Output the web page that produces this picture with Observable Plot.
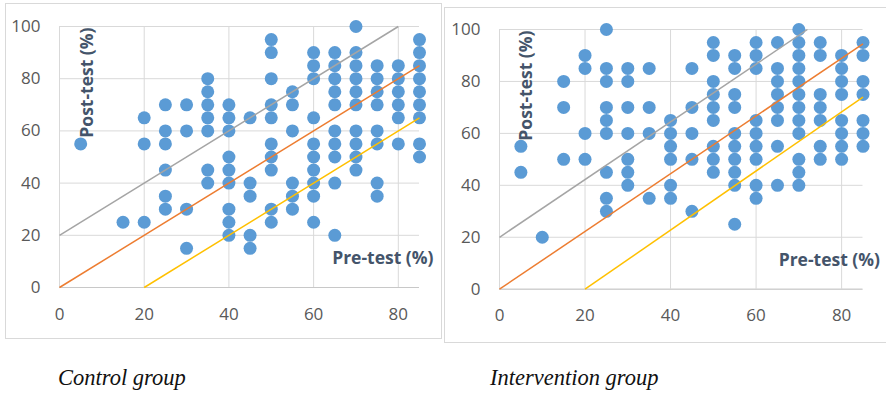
<!DOCTYPE html>
<html>
<head>
<meta charset="utf-8">
<script src="https://cdn.jsdelivr.net/npm/d3@7"></script>
<script src="https://cdn.jsdelivr.net/npm/@observablehq/plot@0.6"></script>
<style>
  html, body { margin: 0; padding: 0; background: #fff; }
  body { position: relative; width: 886px; height: 394px; overflow: hidden; }
  .box { position: absolute; border: 1.5px solid #d9d9d9; box-sizing: border-box; }
  .chart { position: absolute; top: 0; }
  .chart svg { overflow: visible; display: block; }
  .caption { position: absolute; font-family: "Liberation Serif", "DejaVu Serif", serif; font-style: italic; font-size: 22.5px; line-height: 22px; color: #111; white-space: nowrap; }
</style>
</head>
<body>
<div class="box" style="left:5px; top:3px; width:437px; height:336px;"></div>
<div class="box" style="left:444px; top:7px; width:446px; height:336px;"></div>
<div id="left" class="chart" style="left:0px;"></div>
<div id="right" class="chart" style="left:444px;"></div>
<div class="caption" style="left:58px; top:367px;">Control group</div>
<div class="caption" style="left:490px; top:367px;">Intervention group</div>
<script>
// ---- data ----
const xTicks = [0, 20, 40, 60, 80];
const yTicks = [0, 20, 40, 60, 80, 100];
const xLabel = "Pre-test (%)";
const yLabel = "Post-test (%)";
const groupNames = ["Control group", "Intervention group"];

// Control group: pre-test score columns and post-test scores in each column
const controlPre = [5, 15, 20, 25, 30, 35, 40, 45, 50, 55, 60, 65, 70, 75, 80, 85];
const controlPost = [
  [55],
  [25],
  [65, 55, 25],
  [70, 60, 55, 45, 35, 30],
  [70, 60, 30, 15],
  [80, 75, 70, 65, 60, 45, 40],
  [70, 65, 60, 50, 45, 40, 30, 25, 20],
  [65, 40, 35, 20, 15],
  [95, 90, 80, 70, 65, 55, 50, 45, 30, 25],
  [75, 70, 60, 40, 35, 30],
  [90, 85, 80, 65, 55, 50, 45, 40, 35, 25],
  [90, 85, 80, 75, 70, 60, 55, 50, 40, 20],
  [100, 90, 85, 80, 75, 70, 60, 55, 50, 45],
  [85, 80, 75, 70, 60, 55, 40, 35],
  [85, 80, 75, 70, 65, 55],
  [95, 90, 85, 80, 75, 70, 65, 55, 50]
];

// Intervention group
const interventionPre = [5, 10, 15, 20, 25, 30, 35, 40, 45, 50, 55, 60, 65, 70, 75, 80, 85];
const interventionPost = [
  [55, 45],
  [20],
  [80, 70, 50],
  [90, 85, 60, 50],
  [100, 85, 80, 70, 65, 60, 45, 35, 30],
  [85, 80, 70, 60, 50, 45, 40],
  [85, 70, 60, 35],
  [65, 60, 55, 50, 40, 35],
  [85, 70, 60, 50, 30],
  [95, 90, 80, 75, 70, 65, 55, 50, 45],
  [90, 85, 75, 70, 60, 55, 50, 45, 40, 25],
  [95, 90, 85, 65, 60, 55, 50, 40, 35],
  [95, 85, 80, 75, 70, 65, 55, 40],
  [100, 95, 90, 85, 80, 75, 70, 65, 60, 50, 45, 40],
  [95, 90, 75, 70, 65, 55, 50],
  [90, 85, 80, 75, 65, 60, 55, 50],
  [95, 90, 80, 75, 65, 60, 55]
];

// Reference lines (upper +20, identity, lower -20): start and end points [pre, post]
const controlLineStart = [[0, 20], [0, 0], [20, 0]];
const controlLineEnd = [[80, 100], [85, 85], [85, 65]];
const interventionLineStart = [[0, 20], [0, 0], [20, 0]];
const interventionLineEnd = [[72, 100], [85, 94.5], [85, 74]];

// ---- styles ----
const lineColors = ["#a5a5a5", "#ed7d31", "#ffc000"];
const dotColor = "#5b9bd5";
const gridColor = "#d9d9d9";
const textColor = "#595959";
const titleColor = "#44546a";

function panel(pre, post, lineStart, lineEnd, opts) {
  const points = pre.flatMap((x, i) => post[i].map(y => ({pre: x, post: y})));
  const links = lineStart.map((s, i) => ({x1: s[0], y1: s[1], x2: lineEnd[i][0], y2: lineEnd[i][1], color: lineColors[i]}));
  return Plot.plot({
    width: opts.width,
    height: opts.height,
    marginLeft: opts.ml,
    marginRight: opts.mr,
    marginTop: opts.mt,
    marginBottom: opts.mb,
    x: {domain: [0, 85]},
    y: {domain: [0, 100]},
    style: {fontFamily: "'Open Sans', 'Liberation Sans', sans-serif", fontSize: "17px", color: textColor, background: "transparent", overflow: "visible"},
    marks: [
      Plot.gridY(yTicks, {stroke: gridColor, strokeOpacity: 1, strokeWidth: 1}),
      Plot.gridX(xTicks, {stroke: gridColor, strokeOpacity: 1, strokeWidth: 1}),
      Plot.ruleY([0], {stroke: "#c8c8c8", strokeWidth: 1}),
      Plot.axisX(xTicks, {tickSize: 0, tickPadding: 20, label: null, fill: textColor, fontSize: 17}),
      Plot.axisY(yTicks, {tickSize: 0, tickPadding: 19, label: null, fill: textColor, fontSize: 17}),
      Plot.dot(points, {x: "pre", y: "post", r: 6.5, fill: dotColor, stroke: "none"}),
      Plot.link(links, {x1: "x1", y1: "y1", x2: "x2", y2: "y2", stroke: d => d.color, strokeWidth: 1.5}),
      Plot.text([yLabel], {text: d => d, frameAnchor: "top-left", rotate: -90, textAnchor: "end", dx: opts.ylx, dy: opts.yly, fontWeight: "bold", fontSize: 17.5, fill: titleColor}),
      Plot.text([xLabel], {text: d => d, frameAnchor: "bottom-right", textAnchor: "end", dx: opts.xlx, dy: opts.xly, fontWeight: "bold", fontSize: 17.5, fill: titleColor})
    ]
  });
}

document.getElementById("left").append(panel(controlPre, controlPost, controlLineStart, controlLineEnd,
  {width: 442, height: 340, ml: 59, mr: 23, mt: 26, mb: 53, ylx: 21, yly: 1, xlx: 14, xly: -24}));
document.getElementById("right").append(panel(interventionPre, interventionPost, interventionLineStart, interventionLineEnd,
  {width: 442, height: 342, ml: 55, mr: 23.5, mt: 29, mb: 53.3, ylx: 20, yly: 1, xlx: 17, xly: -23}));
</script>
</body>
</html>
